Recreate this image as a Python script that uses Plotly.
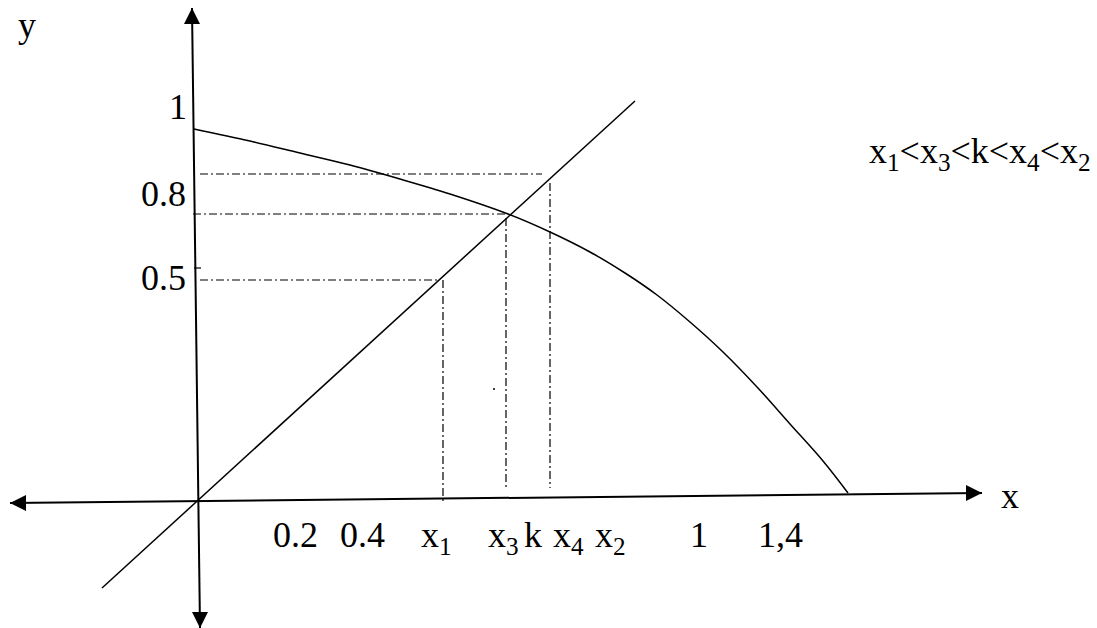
import plotly.graph_objects as go

# coordinate frame: origin where the axes cross, units roughly in screen pixels
# falling curve f(x)
curve_x = [-4, 52, 102, 152, 202, 252, 310, 352, 392, 427, 459, 492, 525, 559, 592, 625, 650]
curve_y = [372, 360, 348, 336, 322, 307, 287, 269, 249, 228, 206, 179, 149, 114, 77, 40, 8]

# straight line y = x
line_x = [-96, 437]
line_y = [-87, 400]

# axes (hand drawn, slightly tilted)
xaxis_x = [-188, 784]
xaxis_y = [-2, 8]
yaxis_x = [-6, 2]
yaxis_y = [493, -127]

# dash-dot guides
guide_h = [  # (y, x_start, x_end)
    (327, 2, 344),
    (287, -5, 307),
    (221, 2, 242),
]
guide_v = [  # (x, y_top, y_bottom)
    (245, 221, -2),
    (308, 283, 12),
    (352, 318, 13),
]

# labels
y_tick_labels = ["1", "0.8", "0.5"]
y_tick_pos = [(-20, 394), (-35, 307), (-35, 223)]
x_tick_labels = ["0.2", "0.4", "x<sub>1</sub>", "x<sub>3</sub>", "k",
                 "x<sub>4</sub>", "x<sub>2</sub>", "1", "1,4"]
x_tick_pos = [97, 164, 238, 305, 335, 370, 412, 501, 582]
relation = "x<sub>1</sub>&lt;x<sub>3</sub>&lt;k&lt;x<sub>4</sub>&lt;x<sub>2</sub>"

FONT = "Liberation Serif"
black = "black"
dashdot = "8px,3px,2px,3px"

fig = go.Figure()

fig.add_trace(go.Scatter(x=curve_x, y=curve_y, mode="lines",
                         line=dict(color=black, width=1.5, shape="spline", smoothing=1)))
fig.add_trace(go.Scatter(x=line_x, y=line_y, mode="lines",
                         line=dict(color=black, width=1.5)))

for gy, x0, x1 in guide_h:
    fig.add_trace(go.Scatter(x=[x0, x1], y=[gy, gy], mode="lines",
                             line=dict(color=black, width=1.2, dash=dashdot)))
for gx, y0, y1 in guide_v:
    fig.add_trace(go.Scatter(x=[gx, gx], y=[y0, y1], mode="lines",
                             line=dict(color=black, width=1.2, dash=dashdot)))

# axes with arrow heads
fig.add_trace(go.Scatter(x=xaxis_x, y=xaxis_y, mode="lines",
                         line=dict(color=black, width=2)))
fig.add_trace(go.Scatter(x=yaxis_x, y=yaxis_y, mode="lines",
                         line=dict(color=black, width=2)))
fig.add_trace(go.Scatter(
    x=[xaxis_x[0], xaxis_x[1], yaxis_x[0], yaxis_x[1]],
    y=[xaxis_y[0], xaxis_y[1], yaxis_y[0], yaxis_y[1]],
    mode="markers",
    marker=dict(symbol=["arrow-left", "arrow-right", "arrow-up", "arrow-down"],
                size=16, color=black, line=dict(width=0)),
))

# tick on y axis at 0.5 and a stray dot
fig.add_trace(go.Scatter(x=[-4, 3], y=[233, 233], mode="lines",
                         line=dict(color=black, width=1.2)))
fig.add_trace(go.Scatter(x=[296], y=[112], mode="markers",
                         marker=dict(size=2, color=black)))

txt = dict(family=FONT, size=36, color=black)
for lab, (lx, ly) in zip(y_tick_labels, y_tick_pos):
    fig.add_annotation(x=lx, y=ly, text=lab, showarrow=False, font=txt,
                       xanchor="center", yanchor="middle")
for lab, lx in zip(x_tick_labels, x_tick_pos):
    fig.add_annotation(x=lx, y=-12, text=lab, showarrow=False, font=txt,
                       xanchor="center", yanchor="top")
fig.add_annotation(x=-171, y=476, text="y", showarrow=False, font=txt)
fig.add_annotation(x=812, y=5, text="x", showarrow=False, font=txt)
fig.add_annotation(x=782, y=348, text=relation, showarrow=False, font=txt)

fig.update_layout(
    width=1097, height=628,
    margin=dict(l=0, r=0, t=0, b=0),
    paper_bgcolor="white", plot_bgcolor="white",
    showlegend=False,
    xaxis=dict(range=[-198, 899], visible=False),
    yaxis=dict(range=[-127, 501], visible=False),
)

# page body has a default 8px margin; drop it so the figure sits at (0, 0)
fig.write_html("out.html", config={"displayModeBar": False},
               post_script="document.body.style.margin='0';document.body.style.overflow='hidden';")
